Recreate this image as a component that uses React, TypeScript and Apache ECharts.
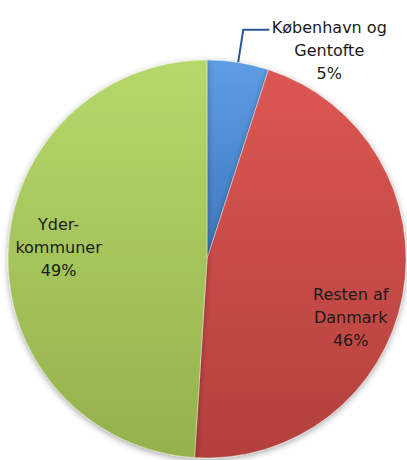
import { useEffect, useRef } from 'react';
import * as echarts from 'echarts';

const categories = ['København og Gentofte', 'Resten af Danmark', 'Yder-kommuner'];
const labelLines = [
  ['København og', 'Gentofte'],
  ['Resten af', 'Danmark'],
  ['Yder-', 'kommuner'],
];
const values = [5, 46, 49];
const topColors = ['#5E9DE3', '#DC5753', '#B5D86B'];
const bottomColors = ['#3F77BE', '#B3403C', '#94B14C'];

export default function App() {
  const ref = useRef<HTMLDivElement>(null);
  useEffect(() => {
    document.body.style.margin = '0';
    const chart = echarts.init(ref.current!, null, { renderer: 'svg' });
    const shifts: Record<number, { dx: number; dy: number }> = {
      0: { dx: 0, dy: 21 },
      1: { dx: 43, dy: 39 },
      2: { dx: -46, dy: -8 },
    };
    chart.setOption({
      animation: false,
      backgroundColor: '#ffffff',
      series: [
        {
          type: 'pie',
          center: [207, 259],
          radius: 199,
          startAngle: 90,
          clockwise: true,
          percentPrecision: 0,
          data: categories.map((name, i) => ({
            name,
            value: values[i],
            itemStyle: {
              color: new echarts.graphic.LinearGradient(0, 0, 0, 1, [
                { offset: 0, color: topColors[i] },
                { offset: 1, color: bottomColors[i] },
              ]),
            },
            label: i === 0 ? { position: 'outside', distanceToLabelLine: 0 } : { position: 'inside' },
            labelLine: i === 0 ? { show: true } : { show: false },
          })),
          itemStyle: {
            borderColor: 'rgba(255,255,255,0.35)',
            borderWidth: 1,
            shadowBlur: 6,
            shadowColor: 'rgba(0,0,0,0.35)',
            shadowOffsetY: 2,
          },
          label: {
            formatter: (p: any) =>
              [...labelLines[p.dataIndex], p.percent + '%'].map((s) => '{t|' + s + '}').join('\n'),
            rich: {
              t: {
                fontFamily: 'DejaVu Sans',
                fontSize: 16,
                lineHeight: 23,
                color: '#1a1a1a',
                align: 'center',
                width: 120,
              },
            },
          },
          labelLine: {
            length: 33,
            length2: 26,
            lineStyle: { color: '#2A5796', width: 2 },
          },
          labelLayout: (params: any) => {
            const s = shifts[params.dataIndex];
            return s ? { dx: s.dx, dy: s.dy } : {};
          },
        },
      ],
    });
    return () => chart.dispose();
  }, []);
  return <div ref={ref} style={{ width: 407, height: 460 }} />;
}
